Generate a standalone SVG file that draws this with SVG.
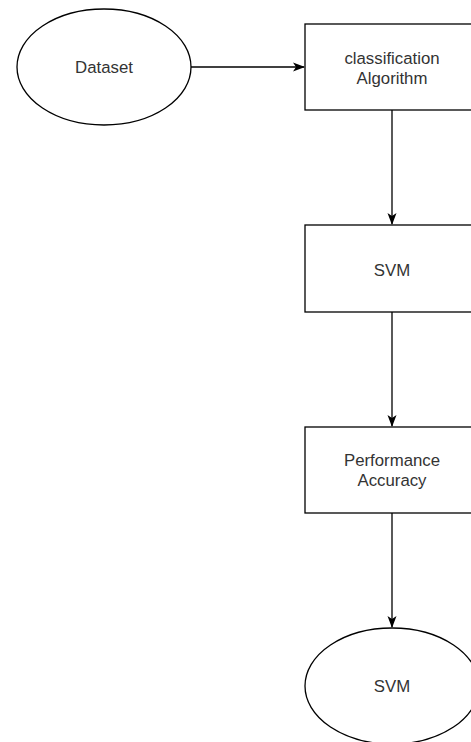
<svg xmlns="http://www.w3.org/2000/svg" width="471" height="742" viewBox="0 0 471 742">
<style>
.s{fill:#fff;stroke:#000;stroke-width:1.3}
.t{font-family:"Liberation Sans",Arial,sans-serif;font-size:16.8px;fill:#333;text-anchor:middle}
.c{fill:none;stroke:#000;stroke-width:1.3}
</style>
<defs>
<marker id="a" markerWidth="12" markerHeight="10" refX="11" refY="5" orient="auto" markerUnits="userSpaceOnUse">
<path d="M0,0.5 L12,5 L0,9.5 L3,5 Z" fill="#000"/>
</marker>
</defs>
<rect width="471" height="742" fill="#fff"/>
<g id="connectors">
<path class="c" d="M191,67 H304" marker-end="url(#a)"/>
<path class="c" d="M392,110 V224" marker-end="url(#a)"/>
<path class="c" d="M392,312 V426" marker-end="url(#a)"/>
<path class="c" d="M392,513 V627" marker-end="url(#a)"/>
</g>
<g id="dataset">
<ellipse class="s" cx="104" cy="67" rx="87" ry="58"/>
<text class="t" x="104" y="73">Dataset</text>
</g>
<g id="classification">
<rect class="s" x="305" y="24" width="174" height="86"/>
<text class="t" x="392" y="64">classification</text>
<text class="t" x="392" y="84">Algorithm</text>
</g>
<g id="svm-box">
<rect class="s" x="305" y="225" width="174" height="87"/>
<text class="t" x="392" y="276">SVM</text>
</g>
<g id="performance">
<rect class="s" x="305" y="427" width="174" height="86"/>
<text class="t" x="392" y="466">Performance</text>
<text class="t" x="392" y="486">Accuracy</text>
</g>
<g id="svm-ellipse">
<ellipse class="s" cx="392" cy="686" rx="87" ry="58"/>
<text class="t" x="392" y="692">SVM</text>
</g>
</svg>
